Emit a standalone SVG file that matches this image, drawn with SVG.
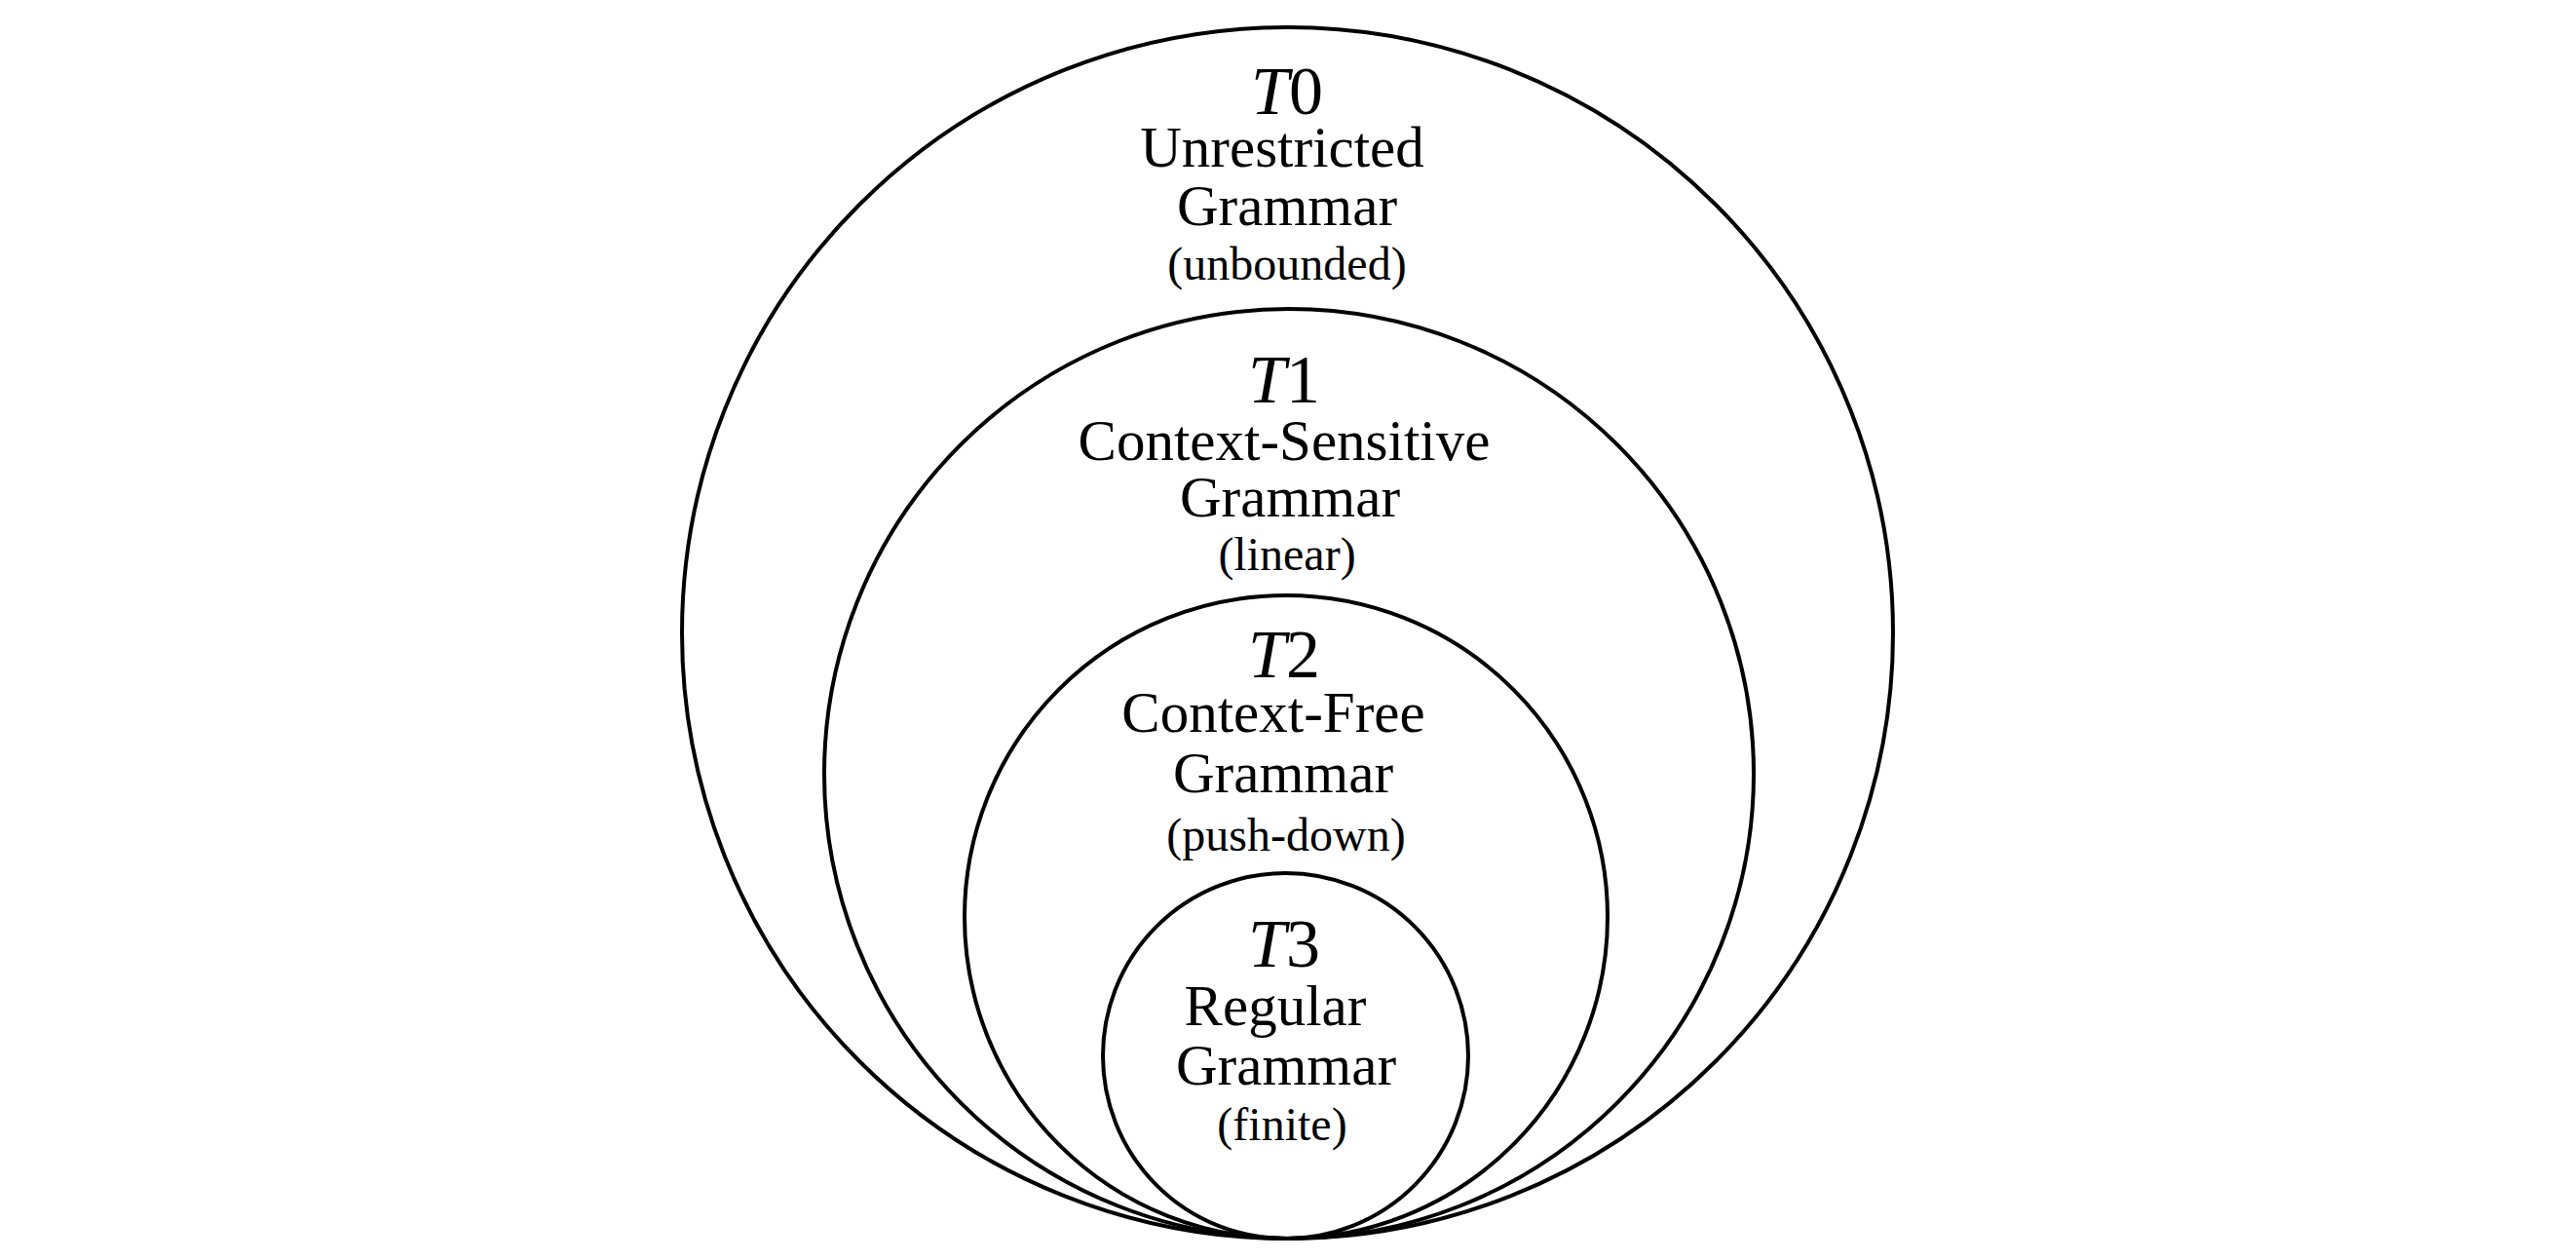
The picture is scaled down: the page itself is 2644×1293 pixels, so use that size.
<svg xmlns="http://www.w3.org/2000/svg" width="2644" height="1293" viewBox="0 0 2644 1293">
<style>
.c{fill:none;stroke:#000;stroke-width:4}
.t{font-family:"Liberation Serif","Times New Roman",serif;fill:#000;text-anchor:middle}
.h{font-size:70px}
.m{font-size:59px}
.s{font-size:48px}
.i{font-style:italic}
</style>
<rect width="2644" height="1293" fill="#fff"/>
<g id="t0">
<circle class="c" cx="1321.5" cy="649.5" r="621.5"/>
<text class="t h" x="1321" y="117"><tspan class="i">T</tspan>0</text>
<text class="t m" x="1316" y="171">Unrestricted</text>
<text class="t m" x="1321" y="231">Grammar</text>
<text class="t s" x="1321" y="287">(unbounded)</text>
</g>
<g id="t1">
<circle class="c" cx="1323" cy="794" r="477"/>
<text class="t h" x="1318" y="413"><tspan class="i">T</tspan>1</text>
<text class="t m" x="1318" y="472">Context-Sensitive</text>
<text class="t m" x="1324" y="530">Grammar</text>
<text class="t s" x="1321" y="585">(linear)</text>
</g>
<g id="t2">
<circle class="c" cx="1320" cy="941" r="330"/>
<text class="t h" x="1318" y="695"><tspan class="i">T</tspan>2</text>
<text class="t m" x="1307" y="751">Context-Free</text>
<text class="t m" x="1317" y="813">Grammar</text>
<text class="t s" x="1320" y="873">(push-down)</text>
</g>
<g id="t3">
<circle class="c" cx="1319.5" cy="1083.5" r="187.5"/>
<text class="t h" x="1318" y="992"><tspan class="i">T</tspan>3</text>
<text class="t m" x="1309" y="1052">Regular</text>
<text class="t m" x="1320" y="1113">Grammar</text>
<text class="t s" x="1316" y="1170">(finite)</text>
</g>
<g id="connectors"></g>
</svg>
